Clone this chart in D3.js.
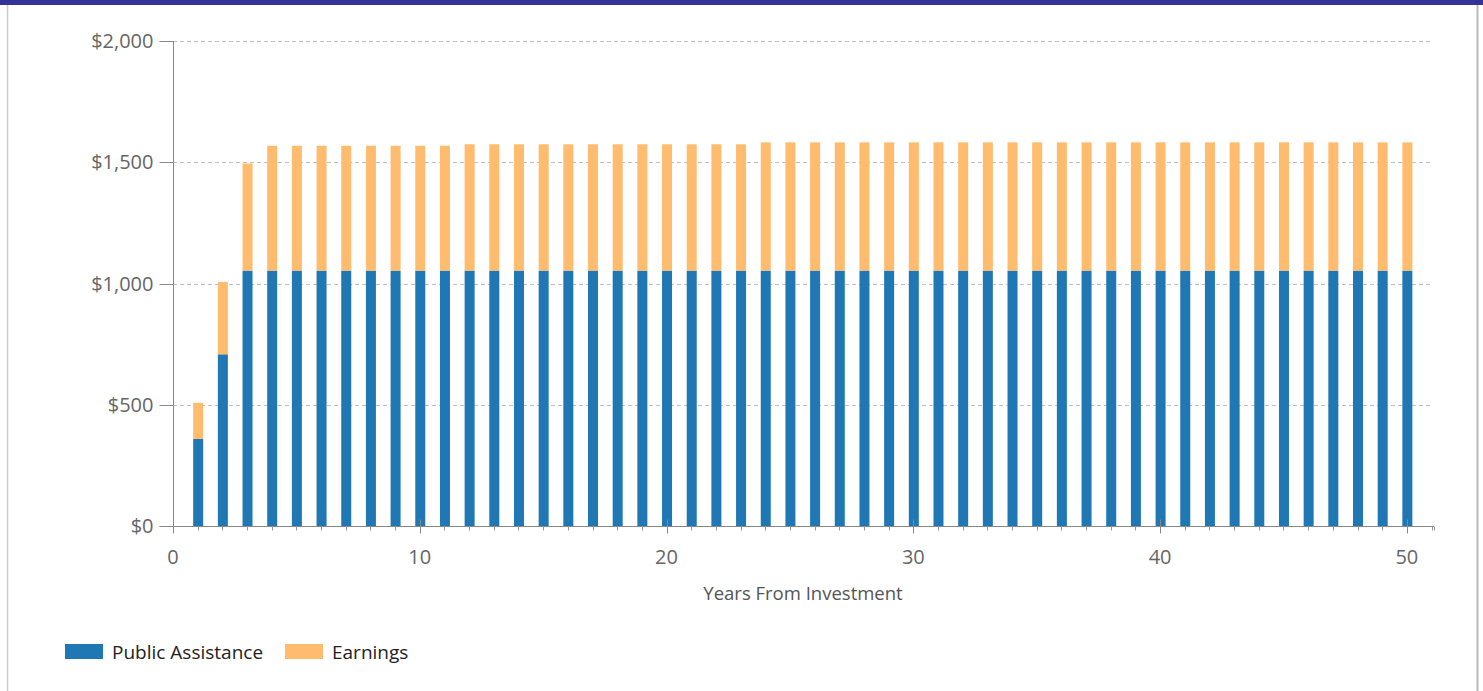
<!DOCTYPE html>
<html><head><meta charset="utf-8">
<script src="https://cdn.jsdelivr.net/npm/d3@7"></script>
<style>
html,body{margin:0;padding:0;background:#fff;}
svg{display:block;}
</style></head>
<body>
<svg id="chart" width="1483" height="691"></svg>
<script>
const years = d3.range(1, 51);
const publicAssistance = [359, 708, 1053, 1053, 1053, 1053, 1053, 1053, 1053, 1053,
  1053, 1053, 1053, 1053, 1053, 1053, 1053, 1053, 1053, 1053,
  1053, 1053, 1053, 1053, 1053, 1053, 1053, 1053, 1053, 1053,
  1053, 1053, 1053, 1053, 1053, 1053, 1053, 1053, 1053, 1053,
  1053, 1053, 1053, 1053, 1053, 1053, 1053, 1053, 1053, 1053];
const earnings = [149, 298, 442, 515, 515, 515, 515, 515, 515, 515,
  515, 521, 521, 521, 521, 521, 521, 521, 521, 521,
  521, 521, 521, 529, 529, 529, 529, 529, 529, 529,
  529, 529, 529, 529, 529, 529, 529, 529, 529, 529,
  529, 529, 529, 529, 529, 529, 529, 529, 529, 529];
const yTicks = [0, 500, 1000, 1500, 2000];
const xTicks = [0, 10, 20, 30, 40, 50];
const seriesNames = ["Public Assistance", "Earnings"];
const colors = ["#1f77b4", "#ffbb6e"];

const svg = d3.select("#chart");
const font = "'Open Sans', 'Noto Sans', sans-serif";

// frame
svg.append("rect").attr("x", 0).attr("y", 0).attr("width", 1483).attr("height", 5).attr("fill", "#333399");
svg.append("line").attr("x1", 7.5).attr("x2", 7.5).attr("y1", 5).attr("y2", 691).attr("stroke", "#cccccc").attr("stroke-width", 1.5);
svg.append("line").attr("x1", 1477.5).attr("x2", 1477.5).attr("y1", 5).attr("y2", 691).attr("stroke", "#bbbbbb").attr("stroke-width", 2);

const x = d3.scaleLinear().domain([0, 51.1]).range([173, 1434]);
const y = d3.scaleLinear().domain([0, 2000]).range([526, 41]);

// grid
svg.append("g").selectAll("line").data(yTicks.filter(d => d > 0)).join("line")
  .attr("x1", 173).attr("x2", 1432)
  .attr("y1", d => Math.round(y(d)) + 0.5).attr("y2", d => Math.round(y(d)) + 0.5)
  .attr("stroke", "#c0c0c0").attr("stroke-dasharray", "4,3");

// data
const table = years.map((yr, i) => ({year: yr, "Public Assistance": publicAssistance[i], "Earnings": earnings[i]}));
const stacked = d3.stack().keys(seriesNames)(table);
const bw = 10;
svg.append("g").selectAll("g").data(stacked).join("g")
  .attr("fill", (d, i) => colors[i])
  .selectAll("rect").data(d => d).join("rect")
  .attr("x", d => x(d.data.year) - bw / 2 + 0.5)
  .attr("width", bw)
  .attr("y", d => y(d[1]))
  .attr("height", d => y(d[0]) - y(d[1]));

// y axis
const gy = svg.append("g").attr("transform", "translate(173.5,0)");
gy.append("line").attr("y1", 41).attr("y2", 526).attr("stroke", "#888");
gy.selectAll("line.t").data(yTicks).join("line").attr("class", "t")
  .attr("x1", -14).attr("x2", 0).attr("y1", d => Math.round(y(d)) + 0.5).attr("y2", d => Math.round(y(d)) + 0.5)
  .attr("stroke", "#888");
gy.selectAll("text").data(yTicks).join("text")
  .attr("x", -20).attr("y", d => y(d)).attr("dy", "0.35em")
  .attr("text-anchor", "end").attr("font-family", font).attr("font-size", 20).attr("fill", "#666")
  .text(d => "$" + d3.format(",")(d));

// x axis
const gx = svg.append("g").attr("transform", "translate(0,526.5)");
gx.append("line").attr("x1", 173).attr("x2", 1434).attr("stroke", "#888");
gx.selectAll("line.m").data(d3.range(0, 52)).join("line").attr("class", "m")
  .attr("x1", d => Math.round(x(d)) + 0.5).attr("x2", d => Math.round(x(d)) + 0.5)
  .attr("y1", 0).attr("y2", 4).attr("stroke", "#999");
gx.append("line").attr("x1", 1434.5).attr("x2", 1434.5).attr("y1", 0).attr("y2", 4).attr("stroke", "#999");
gx.selectAll("line.M").data(xTicks).join("line").attr("class", "M")
  .attr("x1", d => Math.round(x(d)) + 0.5).attr("x2", d => Math.round(x(d)) + 0.5)
  .attr("y1", d => d === 0 ? 0 : -7).attr("y2", 7).attr("stroke", "#888");
gx.selectAll("text").data(xTicks).join("text")
  .attr("x", d => x(d)).attr("y", 37)
  .attr("text-anchor", "middle").attr("font-family", font).attr("font-size", 20).attr("fill", "#666")
  .text(d => d);

svg.append("text").attr("x", 803).attr("y", 600).attr("text-anchor", "middle")
  .attr("font-family", font).attr("font-size", 18.5).attr("fill", "#555").text("Years From Investment");

// legend
const legendX = [65, 285];
const lg = svg.append("g").selectAll("g").data(seriesNames).join("g")
  .attr("transform", (d, i) => `translate(${legendX[i]},644)`);
lg.append("rect").attr("width", 38).attr("height", 15).attr("fill", (d, i) => colors[i]);
lg.append("text").attr("x", 47).attr("y", 15).attr("font-family", font).attr("font-size", 19)
  .attr("fill", "#222").text(d => d);
</script>
</body></html>
